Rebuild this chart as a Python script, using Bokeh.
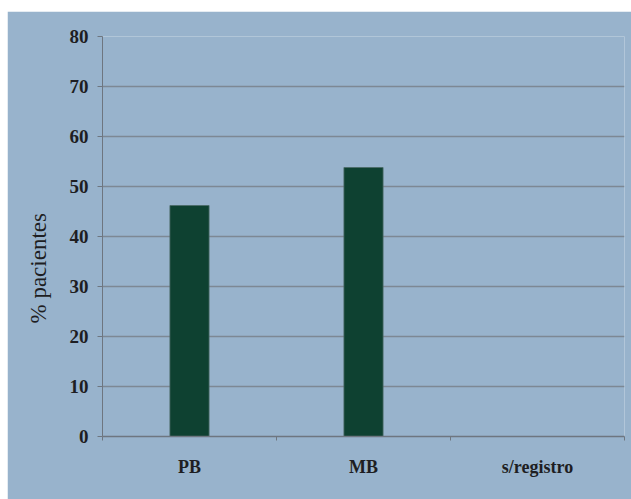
from bokeh.plotting import figure
from bokeh.models import FixedTicker, ColumnDataSource, Range1d, Title
from bokeh.embed import file_html
from bokeh.resources import INLINE

categories = ["PB", "MB", "s/registro"]
values = [46.2, 53.8, 0.0]
y_ticks = [0, 10, 20, 30, 40, 50, 60, 70, 80]
y_title = "% pacientes"

BG = "#98b3cc"
GRID = "#7d8894"
BAR = "#0e4131"
FONT = "Liberation Serif"

xpos = [i + 0.5 for i in range(len(categories))]
src = ColumnDataSource(dict(x=xpos, top=values))

p = figure(width=624, height=488, output_backend="svg", toolbar_location=None,
           x_range=Range1d(0, len(categories)), y_range=Range1d(0, 80),
           min_border_left=94, min_border_right=7, min_border_top=25,
           min_border_bottom=63)
p.margin = (11, 0, 0, 7)
p.background_fill_color = BG
p.border_fill_color = BG
p.outline_line_color = None

p.vbar(x="x", top="top", width=0.225, source=src, fill_color=BAR,
       line_color="#4a6a66", line_width=0.8)

p.xgrid.grid_line_color = None
p.ygrid.grid_line_color = GRID
p.ygrid.grid_line_width = 1.5
p.ygrid.ticker = FixedTicker(ticks=y_ticks)

p.yaxis.ticker = FixedTicker(ticks=y_ticks)
p.yaxis.axis_line_color = "#6e7680"
p.yaxis.major_tick_line_color = "#6e7680"
p.yaxis.major_tick_out = 5
p.yaxis.major_tick_in = 0
p.yaxis.minor_tick_line_color = None
p.yaxis.major_label_text_font = FONT
p.yaxis.major_label_text_font_style = "bold"
p.yaxis.major_label_text_font_size = "19px"
p.yaxis.major_label_text_color = "#1e1e22"
p.yaxis.major_label_standoff = 9

# y title, placed lower than centre as in the reference
p.add_layout(Title(text=y_title, align="left", offset=113, standoff=32,
                   text_font=FONT, text_font_size="23px", text_font_style="normal",
                   text_color="#1e1e22"), "left")

p.xaxis.ticker = FixedTicker(ticks=xpos, minor_ticks=list(range(len(categories) + 1)))
p.xaxis.major_label_overrides = {x: c for x, c in zip(xpos, categories)}
p.xaxis.axis_line_color = "#6e7680"
p.xaxis.axis_line_width = 1.5
p.xaxis.major_tick_line_color = None
p.xaxis.minor_tick_line_color = "#6e7680"
p.xaxis.minor_tick_out = 4
p.xaxis.minor_tick_in = 0
p.xaxis.major_label_text_font = FONT
p.xaxis.major_label_text_font_style = "bold"
p.xaxis.major_label_text_font_size = "18px"
p.xaxis.major_label_text_color = "#1e1e22"
p.xaxis.major_label_standoff = 14

open("out.html", "w").write(file_html(p, INLINE))
